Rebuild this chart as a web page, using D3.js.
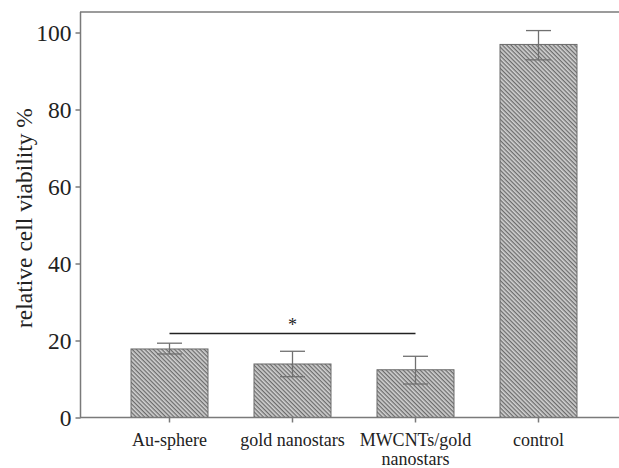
<!DOCTYPE html>
<html>
<head>
<meta charset="utf-8">
<script src="https://cdn.jsdelivr.net/npm/d3@7"></script>
<style>
  body { margin: 0; background: #fff; }
  text { font-family: "Liberation Serif", "Times New Roman", serif; fill: #222; }
</style>
</head>
<body>
<svg id="chart" width="619" height="468"></svg>
<script>
// data
const groups = ["Au-sphere", "gold nanostars", "MWCNTs/gold\nnanostars", "control"];
const means = [17.8, 13.9, 12.4, 96.9];
const errHigh = [19.3, 17.2, 15.9, 100.5];
const errLow = [16.5, 10.6, 8.7, 92.9];
const yTicks = [0, 20, 40, 60, 80, 100];
const sigPair = ["Au-sphere", "MWCNTs/gold\nnanostars"];
const sigLevel = 21.8;

const svg = d3.select('#chart');
const axisColor = '#7a7a7a';

const x = d3.scaleBand()
    .domain(groups)
    .range([108, 600])
    .paddingInner(0.374)
    .paddingOuter(0.187);

const y = d3.scaleLinear()
    .domain([0, 100])
    .range([417.5, 32.5]);

// hatch pattern (lines running down to the right)
const defs = svg.append('defs');
const pat = defs.append('pattern')
    .attr('id', 'hatch')
    .attr('patternUnits', 'userSpaceOnUse')
    .attr('width', 3)
    .attr('height', 3)
    .attr('patternTransform', 'rotate(45)');
pat.append('rect').attr('width', 3).attr('height', 3).attr('fill', '#d2d2d2');
pat.append('rect').attr('width', 3).attr('height', 1.3).attr('fill', '#6c6c6c');

// top frame line
svg.append('line')
    .attr('x1', 80).attr('x2', 619)
    .attr('y1', 12).attr('y2', 12)
    .attr('stroke', axisColor).attr('stroke-width', 1.5);

// bars
svg.selectAll('.bar')
    .data(groups)
    .join('rect')
    .attr('class', 'bar')
    .attr('x', d => x(d))
    .attr('width', x.bandwidth())
    .attr('y', (d, i) => y(means[i]))
    .attr('height', (d, i) => y(0) - y(means[i]))
    .attr('fill', 'url(#hatch)')
    .attr('stroke', '#6a6a6a')
    .attr('stroke-width', 1);

// error bars
const cx = d => x(d) + x.bandwidth() / 2;
const err = svg.append('g').attr('stroke', '#707070').attr('stroke-width', 1.3);
err.selectAll('.stem')
    .data(groups)
    .join('line')
    .attr('x1', cx).attr('x2', cx)
    .attr('y1', (d, i) => y(errHigh[i]))
    .attr('y2', (d, i) => y(errLow[i]));
err.selectAll('.capTop')
    .data(groups)
    .join('line')
    .attr('x1', d => cx(d) - 12.5).attr('x2', d => cx(d) + 12.5)
    .attr('y1', (d, i) => y(errHigh[i]))
    .attr('y2', (d, i) => y(errHigh[i]));
err.selectAll('.capBot')
    .data(groups)
    .join('line')
    .attr('x1', d => cx(d) - 12.5).attr('x2', d => cx(d) + 12.5)
    .attr('y1', (d, i) => y(errLow[i]))
    .attr('y2', (d, i) => y(errLow[i]));

// significance line
svg.append('line')
    .attr('x1', cx(sigPair[0])).attr('x2', cx(sigPair[1]))
    .attr('y1', y(sigLevel)).attr('y2', y(sigLevel))
    .attr('stroke', '#222').attr('stroke-width', 1.6);
svg.append('text')
    .attr('x', (cx(sigPair[0]) + cx(sigPair[1])) / 2)
    .attr('y', y(sigLevel) - 3)
    .attr('text-anchor', 'middle')
    .attr('font-size', 18)
    .text('*');

// y axis
const yAxis = svg.append('g')
    .attr('transform', 'translate(80.5,0)')
    .call(d3.axisLeft(y).tickValues(yTicks).tickSize(5).tickPadding(4));
yAxis.select('.domain').attr('stroke', axisColor).attr('stroke-width', 1.5)
    .attr('d', 'M0,12V417.5');
yAxis.selectAll('.tick line').attr('stroke', axisColor).attr('stroke-width', 1.5);
yAxis.selectAll('.tick text')
    .attr('font-size', 23.5)
    .attr('font-family', '"Liberation Serif", serif')
    .attr('fill', '#222');

// x axis
const xAxis = svg.append('g')
    .attr('transform', 'translate(0,417.5)')
    .call(d3.axisBottom(x).tickSize(5).tickFormat(''));
xAxis.select('.domain').attr('stroke', axisColor).attr('stroke-width', 1.5)
    .attr('d', 'M80,0H619');
xAxis.selectAll('.tick line').attr('stroke', axisColor).attr('stroke-width', 1.5);

svg.selectAll('.xlabel')
    .data(groups)
    .join('text')
    .attr('class', 'xlabel')
    .attr('x', cx)
    .attr('y', 446)
    .attr('text-anchor', 'middle')
    .attr('font-size', 18)
    .each(function (d) {
        d.split('\n').forEach((line, k) => {
            d3.select(this).append('tspan')
                .attr('x', cx(d))
                .attr('dy', k === 0 ? 0 : 19)
                .text(line);
        });
    });

// y label
svg.append('text')
    .attr('transform', 'translate(32,218) rotate(-90)')
    .attr('text-anchor', 'middle')
    .attr('font-size', 23.5)
    .text('relative cell viability %');
</script>
</body>
</html>
